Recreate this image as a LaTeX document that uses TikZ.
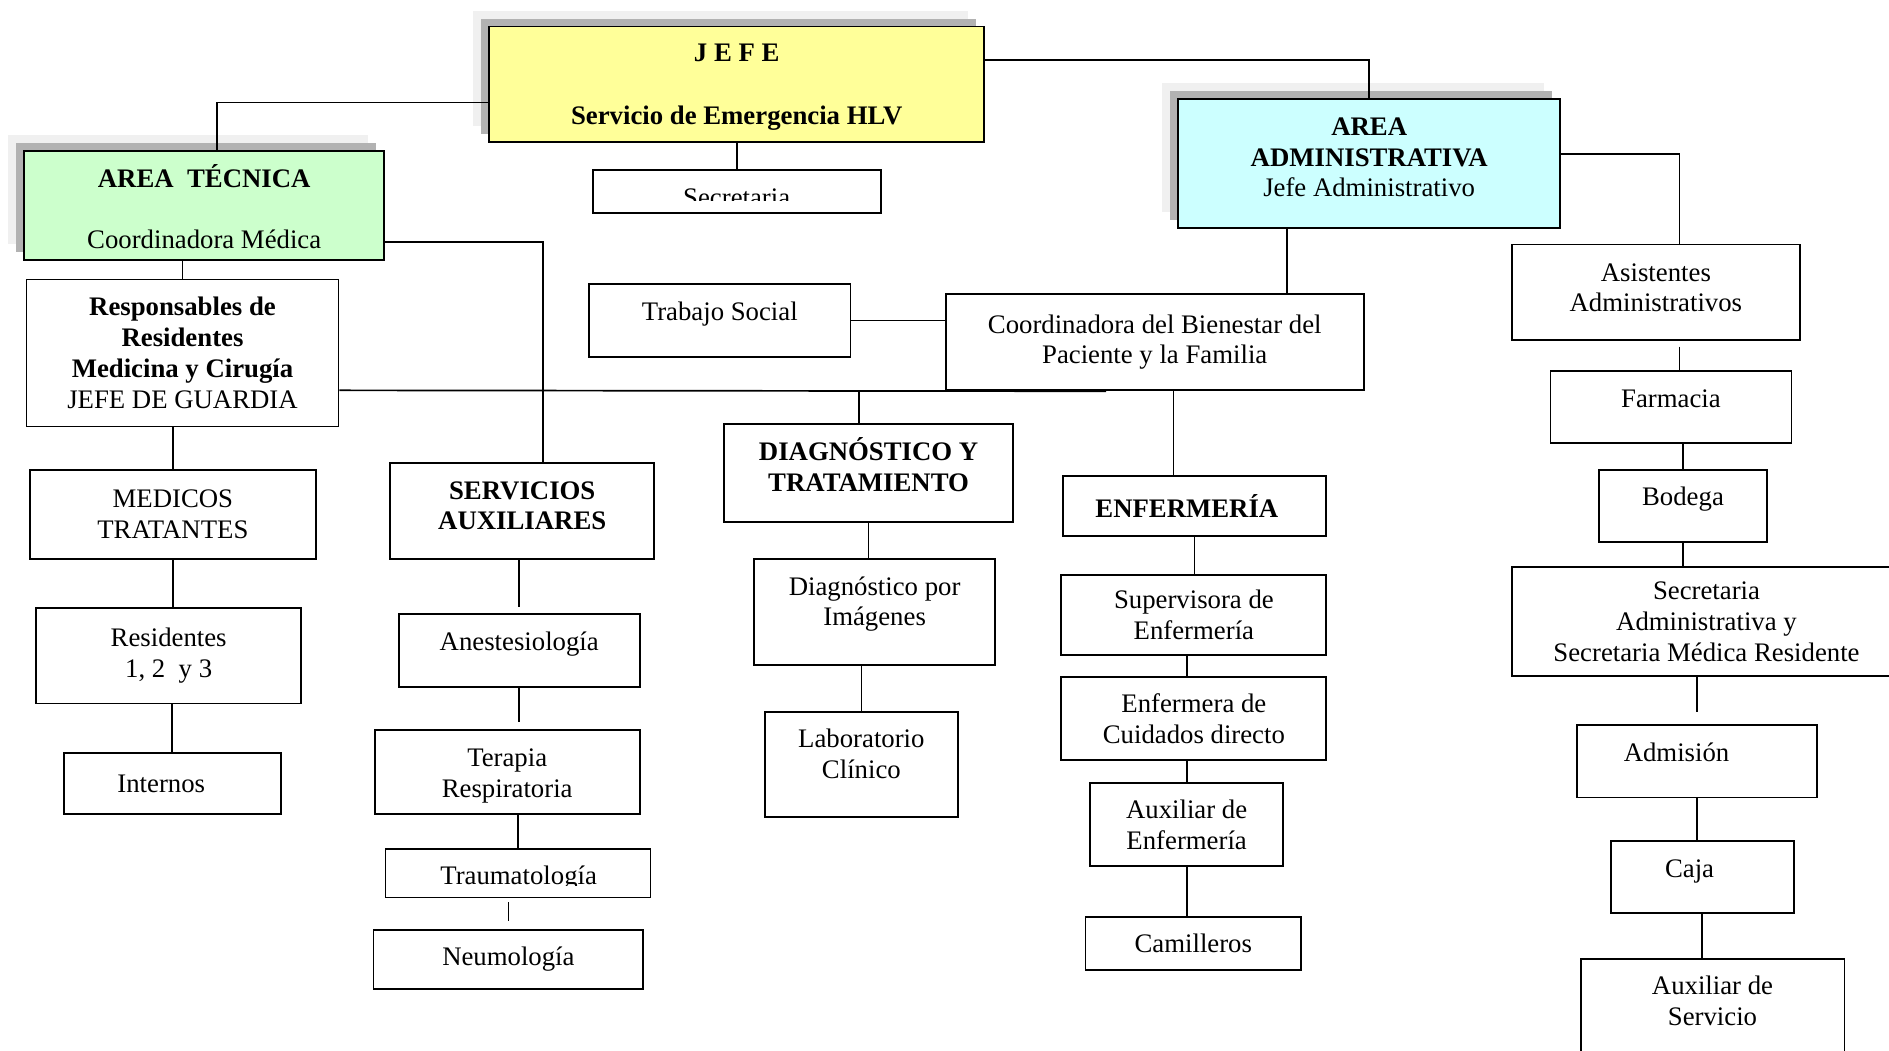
\documentclass[tikz,border=0pt]{standalone}
\usepackage{fontspec}
\setmainfont{Liberation Serif}
\usetikzlibrary{calc,shadows}
\definecolor{jefeyellow}{RGB}{255,255,153}
\definecolor{tecgreen}{RGB}{204,255,204}
\definecolor{admcyan}{RGB}{204,255,255}
\newcommand{\orgfont}{\fontsize{15.8}{18.2}\selectfont}

\begin{document}
\begin{tikzpicture}[x=0.25mm,y=-0.25mm,
    box/.style={draw,line width=1.1pt,inner sep=2pt,align=center,font=\orgfont},
    sz/.style 2 args={minimum width=#1*0.25mm,minimum height=#2*0.25mm},
    topline/.style={text height=8pt,text depth=8pt},
    first/.style 2 args={text width=#1*0.25mm,align=flush center,text height=9pt,text depth=#2},
    shad/.style={general shadow={fill=black!6,shadow xshift=-3.3mm,shadow yshift=3.3mm},
                 general shadow={fill=black!30,shadow xshift=-1.65mm,shadow yshift=1.65mm}},
    link/.style={line width=1pt}]
    \useasboundingbox (0,0) rectangle (1568,872);
    \clip (0,0) rectangle (1568,872);
    \fill[white] (0,0) rectangle (1568,872);
    % top level
    \node[box,shad,fill=jefeyellow,first={390}{35.6pt},sz={411}{96}] (jefe) at (611.5,70)
       {\textbf{J E F E}\\[18.8pt]\textbf{Servicio de Emergencia HLV}};
    \node[box,shad,fill=tecgreen,first={280}{30.6pt},sz={299}{91}] (tecnica) at (169.5,170.5)
       {\textbf{AREA\ \ TÉCNICA}\\[18pt]Coordinadora Médica};
    \node[box,shad,fill=admcyan,first={300}{42pt},sz={317}{107}] (admin) at (1136.5,135.5)
       {\textbf{AREA}\\\textbf{ADMINISTRATIVA}\\Jefe Administrativo};
    \node[box,sz={239}{36}] (secr) at (611.5,159) {};
    \begin{scope}
      \clip (secr.north west) rectangle ($(secr.north east)+(0,26.5)$);
      \node[font=\orgfont,anchor=base,inner sep=0pt] (secrtxt) at (611.5,171) {Secretaria};
    \end{scope}
    % area tecnica
    \node[box,sz={259}{122}] (resp) at (151.5,293)
       {\textbf{Responsables de}\\\textbf{Residentes}\\\textbf{Medicina y Cirugía}\\JEFE DE GUARDIA};
    \node[box,sz={237}{74}] (medicos) at (143.5,427) {MEDICOS\\TRATANTES};
    \node[box,sz={220}{79}] (resid) at (140,544.5) {Residentes\\1, 2\ \ y 3};
    \node[box,sz={180}{51}] (intern) at (143,650.5) {Internos\hspace*{13pt}};
    \node[box,first={200}{22.8pt},sz={219}{80}] (servaux) at (433.5,424)
       {\textbf{SERVICIOS}\\\textbf{AUXILIARES}};
    \node[box,topline,sz={200}{60}] (anest) at (431,540) {Anestesiología};
    \node[box,first={200}{15.7pt},sz={220}{70}] (terap) at (421,641) {Terapia\\Respiratoria};
    \node[box,sz={220}{40}] (traum) at (430,725) {};
    \begin{scope}
      \clip (traum.north west) rectangle ($(traum.north east)+(0,30.5)$);
      \node[font=\orgfont,anchor=base,inner sep=0pt] (traumtxt) at (430.5,734.5) {Traumatología};
    \end{scope}
    \node[box,sz={224}{49}] (neumo) at (422,796.5) {Neumología};
    % centro
    \node[box,topline,sz={217}{60}] (trab) at (597.5,266) {Trabajo Social};
    \node[box,sz={347}{80}] (bien) at (958.5,284) {Coordinadora del Bienestar del\\Paciente y la Familia};
    \node[box,first={220}{23.5pt},sz={240}{81}] (diag) at (721,392.5)
       {\textbf{DIAGNÓSTICO Y}\\\textbf{TRATAMIENTO}};
    \node[box,first={180}{29pt},sz={200}{88}] (dimg) at (726,508) {Diagnóstico por\\Imágenes};
    \node[box,first={140}{29pt},sz={160}{87}] (lab) at (715,634.5) {Laboratorio\\Clínico};
    \node[box,sz={219}{50}] (enf) at (991.5,420) {\textbf{ENFERMERÍA}\hspace*{9pt}};
    \node[box,sz={220}{67}] (superv) at (991,510.5) {Supervisora de\\Enfermería};
    \node[box,sz={220}{69}] (enfcd) at (991,596.5) {Enfermera de\\Cuidados directo};
    \node[box,sz={160}{69}] (auxenf) at (985,684.5) {Auxiliar de\\Enfermería};
    \node[box,sz={179}{44}] (camil) at (990.5,783) {Camilleros};
    % area administrativa
    \node[box,first={220}{22.1pt},sz={239}{79}] (asist) at (1374.5,242.5) {Asistentes\\Administrativos};
    \node[box,topline,sz={200}{60}] (farm) at (1387,338) {Farmacia};
    \node[box,topline,sz={140}{60}] (bod) at (1397,420) {Bodega};
    \node[box,sz={323}{90}] (secadm) at (1416.5,516)
       {Secretaria\\Administrativa y\\Secretaria Médica Residente};
    \node[box,topline,sz={199}{60}] (admis) at (1408.5,632) {Admisión\hspace*{24pt}};
    \node[box,topline,sz={152}{60}] (caja) at (1413,728) {Caja\hspace*{15pt}};
    \node[box,first={200}{29pt},sz={219}{87}] (auxserv) at (1421.5,839.5) {Auxiliar de\\Servicio};
    % connectors
    \draw[link] ($(jefe.west)+(0,15)$) -| ($(tecnica.north)+(10.5,0)$);
    \draw[link] ($(jefe.east)+(0,-20)$) -| (admin.north);
    \draw[link] (jefe.south) -- (secr.north);
    \draw[link] (tecnica.south -| resp.north) -- (resp.north);
    \draw[link] ($(tecnica.east)+(0,30.5)$) -| ($(servaux.north)+(17.5,0)$);
    \draw[link] ($(resp.east)+(0,31)$) -- ($(bien.south west)+(134,0)$);
    \coordinate (dtop) at ($(diag.north)+(-8,0)$);
    \draw[link] (dtop |- bien.south) -- (dtop);
    \draw[link] (trab.east) -- (trab.east -| bien.west);
    \coordinate (abot) at ($(admin.south)+(-68.5,0)$);
    \draw[link] (abot) -- (abot |- bien.north);
    \coordinate (etop) at ($(enf.north)+(-17.5,0)$);
    \draw[link] (etop |- bien.south) -- (etop);
    \draw[link] ($(admin.east)+(0,-7.5)$) -| ($(asist.north)+(19.5,0)$);
    \coordinate (abase) at ($(asist.south)+(19.5,0)$);
    \draw[link,shorten <=1.25mm] (abase) -- (abase |- farm.north);
    \draw[link] (bod.north |- farm.south) -- (bod.north);
    \draw[link] (bod.south) -- (bod.south |- secadm.north);
    \draw[link,shorten >=2.5mm] (admis.north |- secadm.south) -- (admis.north);
    \draw[link] (admis.south) -- (admis.south |- caja.north);
    \draw[link] (caja.south) -- (caja.south |- auxserv.north);
    \draw[link] (medicos.north |- resp.south) -- (medicos.north);
    \draw[link] (medicos.south) -- (medicos.south |- resid.north);
    \draw[link] (intern.north |- resid.south) -- (intern.north);
    \draw[link,shorten >=1.25mm] (anest.north |- servaux.south) -- (anest.north);
    \draw[link,shorten >=1.5mm] (anest.south) -- (anest.south |- terap.north);
    \draw[link] (traum.north |- terap.south) -- (traum.north);
    \draw[link,shorten <=0.75mm,shorten >=1.75mm] (neumo.north |- traum.south) -- (neumo.north);
    \draw[link] (diag.south) -- (diag.south |- dimg.north);
    \draw[link] (lab.north |- dimg.south) -- (lab.north);
    \draw[link] (enf.south) -- (enf.south |- superv.north);
    \draw[link] (superv.south -| auxenf.north) -- (enfcd.north -| auxenf.north);
    \draw[link] (auxenf.north |- enfcd.south) -- (auxenf.north);
    \draw[link] (auxenf.south) -- (auxenf.south |- camil.north);
\end{tikzpicture}
\end{document}
